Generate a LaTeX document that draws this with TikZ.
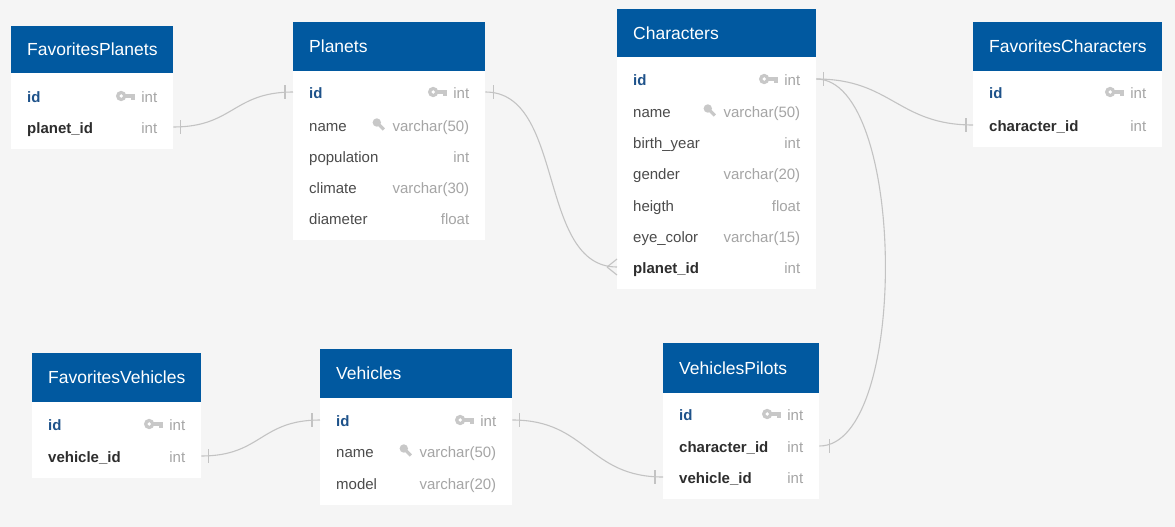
\documentclass[tikz,border=0pt]{standalone}
\usepackage{fontspec}
\setmainfont{Liberation Sans}
\definecolor{bgc}{RGB}{245,245,245}
\definecolor{headc}{RGB}{1,89,160}
\definecolor{pkc}{RGB}{30,82,138}
\definecolor{fkc}{RGB}{45,45,45}
\definecolor{fldc}{RGB}{75,75,75}
\definecolor{typc}{RGB}{165,165,165}
\definecolor{keyc}{RGB}{200,200,200}
\definecolor{relc}{RGB}{195,195,195}
\tikzset{
%Define style for table parts
head/.style={anchor=north west, fill=headc, text=white, inner xsep=16pt, inner ysep=0pt, align=left, font=\fontsize{17.5}{21}\selectfont},
tbody/.style={anchor=north west, fill=white, inner sep=0pt},
%Define style for fields and types
fld/.style={anchor=west, inner xsep=16pt, inner ysep=0pt, text height=13pt, text depth=1pt, align=left, text=fldc, font=\fontsize{15}{18}\selectfont},
pkfld/.style={fld, text=pkc, font=\fontsize{15}{18}\selectfont\bfseries},
fkfld/.style={fld, text=fkc, font=\fontsize{15}{18}\selectfont\bfseries},
typ/.style={anchor=east, xshift=-16pt, inner sep=0pt, text height=13pt, text depth=1pt, text=typc, font=\fontsize{15}{18}\selectfont},
%Define style for relations
rel/.style={draw=relc, line width=1.1pt},
%Define icons
pkey/.pic={
 \fill[keyc] (-4,0) circle (5.2pt);
 \fill[white] (-4,0) circle (1.9pt);
 \fill[keyc] (0,-2.2) rectangle (9.5,1.6);
 \fill[keyc] (6,1.6) rectangle (9.5,4.4);
},
ukey/.pic={
 \fill[keyc] (-2.5,-2.5) circle (4.2pt);
 \draw[keyc, line width=3.2pt] (-1,-1) -- (4.5,4.5);
},
}
\begin{document}
\begin{tikzpicture}[x=1pt,y=-1pt]
% Background
\useasboundingbox (0,0) rectangle (1175,527);
\fill[bgc] (0,0) rectangle (1175,527);

% FavoritesPlanets
\node[tbody, minimum width=162pt, minimum height=123pt] (fp-box) at (11,26) {};
\node[head, text width=130pt, minimum height=47pt] (fp-head) at (11,26) {FavoritesPlanets};
\node[pkfld, text width=130pt] (fp-id) at (11,96) {id};
\node[typ] (fp-id-t) at (fp-id.east) {int};
\pic at ([xshift=-16pt]fp-id-t.west) {pkey};
\node[fkfld, text width=130pt] (fp-planet) at (11,127) {planet\_id};
\node[typ] (fp-planet-t) at (fp-planet.east) {int};

% Planets
\node[tbody, minimum width=192pt, minimum height=218pt] (pl-box) at (293,22) {};
\node[head, text width=160pt, minimum height=49pt] (pl-head) at (293,22) {Planets};
\node[pkfld, text width=160pt] (pl-id) at (293,92) {id};
\node[typ] (pl-id-t) at (pl-id.east) {int};
\pic at ([xshift=-16pt]pl-id-t.west) {pkey};
\node[fld, text width=160pt] (pl-name) at (293,125) {name};
\node[typ] (pl-name-t) at (pl-name.east) {varchar(50)};
\pic at ([xshift=-13pt]pl-name-t.west) {ukey};
\node[fld, text width=160pt] (pl-pop) at (293,156) {population};
\node[typ] (pl-pop-t) at (pl-pop.east) {int};
\node[fld, text width=160pt] (pl-climate) at (293,187) {climate};
\node[typ] (pl-climate-t) at (pl-climate.east) {varchar(30)};
\node[fld, text width=160pt] (pl-diam) at (293,218) {diameter};
\node[typ] (pl-diam-t) at (pl-diam.east) {float};

% Characters
\node[tbody, minimum width=199pt, minimum height=280pt] (ch-box) at (617,9) {};
\node[head, text width=167pt, minimum height=48pt] (ch-head) at (617,9) {Characters};
\node[pkfld, text width=167pt] (ch-id) at (617,79) {id};
\node[typ] (ch-id-t) at (ch-id.east) {int};
\pic at ([xshift=-16pt]ch-id-t.west) {pkey};
\node[fld, text width=167pt] (ch-name) at (617,111) {name};
\node[typ] (ch-name-t) at (ch-name.east) {varchar(50)};
\pic at ([xshift=-13pt]ch-name-t.west) {ukey};
\node[fld, text width=167pt] (ch-birth) at (617,142) {birth\_year};
\node[typ] (ch-birth-t) at (ch-birth.east) {int};
\node[fld, text width=167pt] (ch-gender) at (617,173) {gender};
\node[typ] (ch-gender-t) at (ch-gender.east) {varchar(20)};
\node[fld, text width=167pt] (ch-height) at (617,205) {heigth};
\node[typ] (ch-height-t) at (ch-height.east) {float};
\node[fld, text width=167pt] (ch-eye) at (617,236) {eye\_color};
\node[typ] (ch-eye-t) at (ch-eye.east) {varchar(15)};
\node[fkfld, text width=167pt] (ch-planet) at (617,267) {planet\_id};
\node[typ] (ch-planet-t) at (ch-planet.east) {int};

% FavoritesCharacters
\node[tbody, minimum width=189pt, minimum height=125pt] (fc-box) at (973,22) {};
\node[head, text width=157pt, minimum height=49pt] (fc-head) at (973,22) {FavoritesCharacters};
\node[pkfld, text width=157pt] (fc-id) at (973,92) {id};
\node[typ] (fc-id-t) at (fc-id.east) {int};
\pic at ([xshift=-16pt]fc-id-t.west) {pkey};
\node[fkfld, text width=157pt] (fc-char) at (973,125) {character\_id};
\node[typ] (fc-char-t) at (fc-char.east) {int};

% FavoritesVehicles
\node[tbody, minimum width=169pt, minimum height=125pt] (fv-box) at (32,353) {};
\node[head, text width=137pt, minimum height=49pt] (fv-head) at (32,353) {FavoritesVehicles};
\node[pkfld, text width=137pt] (fv-id) at (32,424) {id};
\node[typ] (fv-id-t) at (fv-id.east) {int};
\pic at ([xshift=-16pt]fv-id-t.west) {pkey};
\node[fkfld, text width=137pt] (fv-vehicle) at (32,456) {vehicle\_id};
\node[typ] (fv-vehicle-t) at (fv-vehicle.east) {int};

% Vehicles
\node[tbody, minimum width=192pt, minimum height=156pt] (ve-box) at (320,349) {};
\node[head, text width=160pt, minimum height=49pt] (ve-head) at (320,349) {Vehicles};
\node[pkfld, text width=160pt] (ve-id) at (320,420) {id};
\node[typ] (ve-id-t) at (ve-id.east) {int};
\pic at ([xshift=-16pt]ve-id-t.west) {pkey};
\node[fld, text width=160pt] (ve-name) at (320,451) {name};
\node[typ] (ve-name-t) at (ve-name.east) {varchar(50)};
\pic at ([xshift=-13pt]ve-name-t.west) {ukey};
\node[fld, text width=160pt] (ve-model) at (320,483) {model};
\node[typ] (ve-model-t) at (ve-model.east) {varchar(20)};

% VehiclesPilots
\node[tbody, minimum width=156pt, minimum height=156pt] (vp-box) at (663,343) {};
\node[head, text width=124pt, minimum height=50pt] (vp-head) at (663,343) {VehiclesPilots};
\node[pkfld, text width=124pt] (vp-id) at (663,414) {id};
\node[typ] (vp-id-t) at (vp-id.east) {int};
\pic at ([xshift=-16pt]vp-id-t.west) {pkey};
\node[fkfld, text width=124pt] (vp-char) at (663,446) {character\_id};
\node[typ] (vp-char-t) at (vp-char.east) {int};
\node[fkfld, text width=124pt] (vp-vehicle) at (663,477) {vehicle\_id};
\node[typ] (vp-vehicle-t) at (vp-vehicle.east) {int};

% Draw relations
\draw[rel] (fp-planet.east) .. controls +(60,0) and +(-60,0) .. (pl-id.west);
\draw[rel] (pl-id.east) .. controls +(80,0) and +(-80,0) .. (ch-planet.west);
\draw[rel] (ch-id.east) .. controls +(75,0) and +(-75,0) .. (fc-char.west);
\draw[rel] (ch-id.east) .. controls +(90,0) and +(90,0) .. (vp-char.east);
\draw[rel] (fv-vehicle.east) .. controls +(60,0) and +(-60,0) .. (ve-id.west);
\draw[rel] (ve-id.east) .. controls +(75,0) and +(-75,0) .. (vp-vehicle.west);

% Draw relation ends
\draw[rel] ([xshift=7pt,yshift=7pt]fp-planet.east) -- ([xshift=7pt,yshift=-7pt]fp-planet.east);
\draw[rel] ([xshift=-8pt,yshift=7pt]pl-id.west) -- ([xshift=-8pt,yshift=-7pt]pl-id.west);
\draw[rel] ([xshift=8pt,yshift=7pt]pl-id.east) -- ([xshift=8pt,yshift=-7pt]pl-id.east);
\draw[rel] ([xshift=-10pt]ch-planet.west) -- ([yshift=8pt]ch-planet.west);
\draw[rel] ([xshift=-10pt]ch-planet.west) -- ([yshift=-8pt]ch-planet.west);
\draw[rel] ([xshift=7pt,yshift=7pt]ch-id.east) -- ([xshift=7pt,yshift=-7pt]ch-id.east);
\draw[rel] ([xshift=-7pt,yshift=7pt]fc-char.west) -- ([xshift=-7pt,yshift=-7pt]fc-char.west);
\draw[rel] ([xshift=10pt,yshift=7pt]vp-char.east) -- ([xshift=10pt,yshift=-7pt]vp-char.east);
\draw[rel] ([xshift=7pt,yshift=7pt]fv-vehicle.east) -- ([xshift=7pt,yshift=-7pt]fv-vehicle.east);
\draw[rel] ([xshift=-8pt,yshift=7pt]ve-id.west) -- ([xshift=-8pt,yshift=-7pt]ve-id.west);
\draw[rel] ([xshift=7pt,yshift=7pt]ve-id.east) -- ([xshift=7pt,yshift=-7pt]ve-id.east);
\draw[rel] ([xshift=-8pt,yshift=7pt]vp-vehicle.west) -- ([xshift=-8pt,yshift=-7pt]vp-vehicle.west);
\end{tikzpicture}
\end{document}
